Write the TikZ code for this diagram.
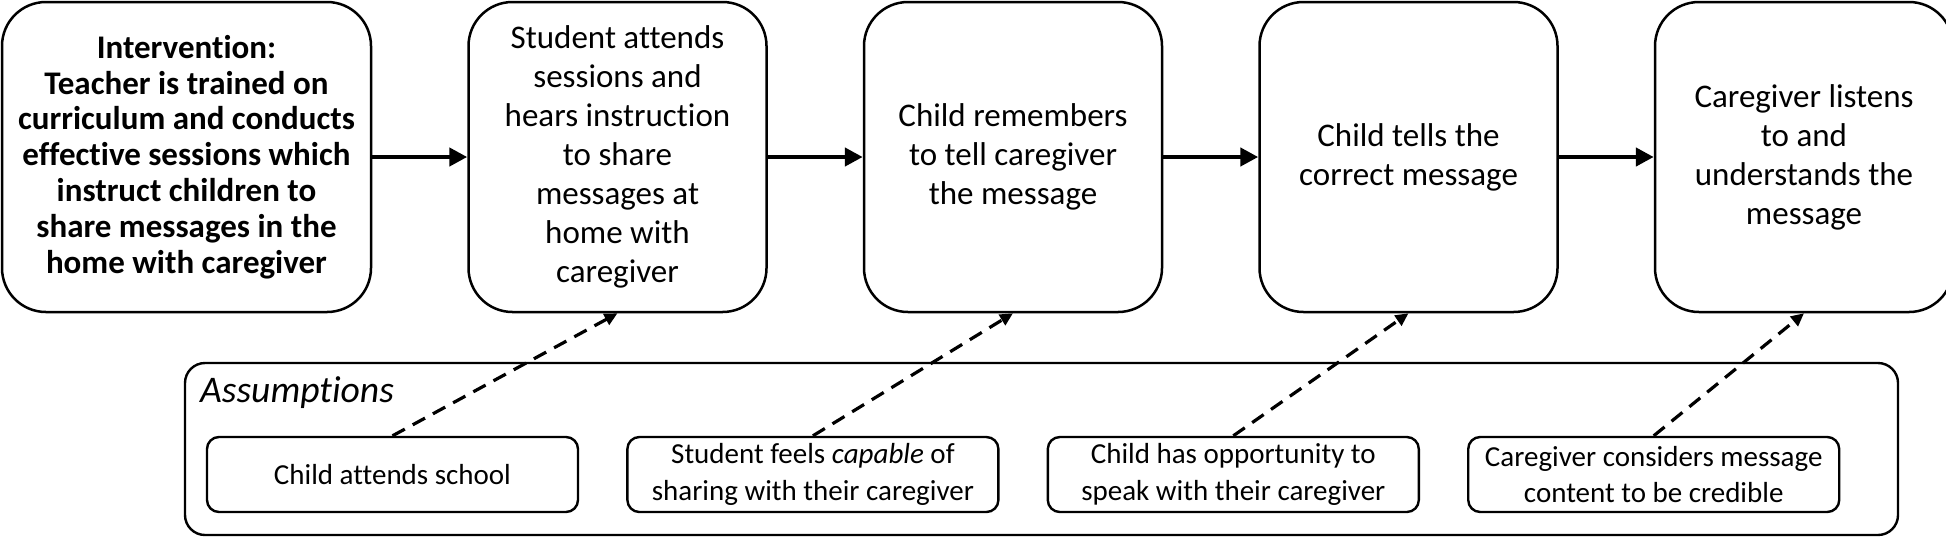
\documentclass[tikz,border=0pt]{standalone}
\usepackage{fontspec}
\setmainfont{Carlito}[Ligatures=NoCommon]
\usetikzlibrary{arrows, arrows.meta, positioning, graphs}
\tikzset{
node distance=47.5pt,
>={Triangle[length=9pt, width=9pt]},
black,
text=black,
stepbox/.style={%
    rectangle,
    minimum width=149pt,
    minimum height=155pt,
    inner sep=2pt,
    rounded corners=22pt,
    line width=1.25pt,
    draw=black,
    align=center,
    % Font
    font=\fontsize{16.5pt}{19.5pt}\selectfont
},
assumbox/.style={%
    rectangle,
    minimum width=185.5pt,
    minimum height=37.5pt,
    inner sep=0pt,
    rounded corners=6pt,
    line width=1.2pt,
    draw=black,
    align=center,
    font=\fontsize{14.5pt}{18.3pt}\selectfont
},
groupbox/.style={%
    rectangle,
    minimum width=856.5pt,
    minimum height=86pt,
    rounded corners=10pt,
    line width=1.2pt,
    draw=black
},
flow/.style={->, line width=2.2pt},
link/.style={-{Triangle[length=6.5pt, width=6pt]}, line width=1.6pt, dash pattern=on 7pt off 4.5pt},
}

\begin{document}
\begin{tikzpicture}
	\useasboundingbox (0,0) rectangle (973pt,-268.5pt);

	\node[groupbox] (group) at (520.75pt,-224.5pt) {};
	\node[anchor=base west, inner sep=0pt, font=\fontsize{18.8pt}{22pt}\selectfont\itshape] (title)
		at ([xshift=8pt, yshift=-20.5pt]group.north west) {Assumptions};

	\node[stepbox, minimum width=184.5pt, font=\fontsize{16.5pt}{17.9pt}\selectfont\bfseries] (interv) at (93.25pt,-78.5pt)
		{Intervention:\\Teacher is trained on\\curriculum and conducts\\effective sessions which\\instruct children to\\share messages in the\\home with caregiver};
	\node[stepbox, right=of interv] (attend) {Student attends\\sessions and\\hears instruction\\to share\\messages at\\home with\\caregiver};
	\node[stepbox, right=of attend] (remember) {Child remembers\\to tell caregiver\\the message};
	\node[stepbox, right=of remember] (tell) {Child tells the\\correct message};
	\node[stepbox, right=of tell] (listen) {Caregiver listens\\to and\\understands the\\message};

	\node[assumbox] (school) at (196.25pt,-237.25pt) {Child attends school};
	\node[assumbox, right=23.5pt of school] (capable) {Student feels \textit{capable} of\\sharing with their caregiver};
	\node[assumbox, right=23.5pt of capable] (chance) {Child has opportunity to\\speak with their caregiver};
	\node[assumbox, right=23.5pt of chance] (credible) {Caregiver considers message\\content to be credible};

\graph [use existing nodes, edges={flow}] {
interv -> attend -> remember -> tell -> listen;
};

	\draw[link] (school.north) -- (attend.south);
	\draw[link] (capable.north) -- (remember.south);
	\draw[link] (chance.north) -- (tell.south);
	\draw[link] (credible.north) -- (listen.south);

\end{tikzpicture}
\end{document}
